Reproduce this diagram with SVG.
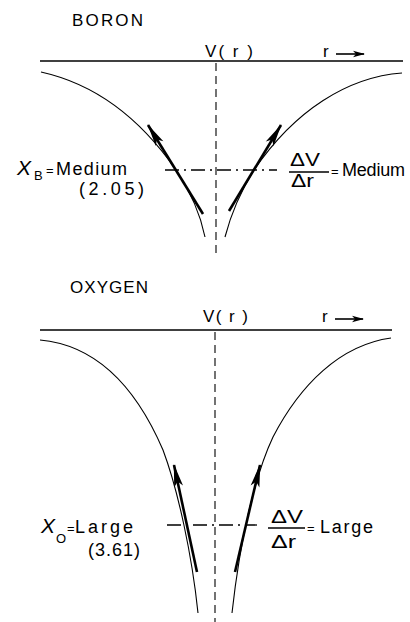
<svg xmlns="http://www.w3.org/2000/svg" width="410" height="622" viewBox="0 0 410 622">
<style>
text{font-family:"Liberation Sans",Arial,sans-serif;fill:#000;font-size:18px}
.hd{font-size:17px}
.x{font-style:italic;font-size:21px}
.sub{font-size:13px}
.eq{font-size:13px}
.axis{stroke:#000;stroke-width:1.5;fill:none}
.curve{stroke:#000;stroke-width:1.1;fill:none}
.vdash{stroke:#000;stroke-width:1.1;stroke-dasharray:8 5;fill:none}
.dd{stroke:#000;stroke-width:1.3;stroke-dasharray:14 5 2 5;fill:none}
.arr{stroke:#000;stroke-width:2.6;fill:none;marker-end:url(#big)}
.rarr{stroke:#000;stroke-width:1.6;fill:none;marker-end:url(#small)}
.bar{stroke:#000;stroke-width:1.4}
</style>
<defs>
<marker id="big" markerUnits="userSpaceOnUse" viewBox="-24 -6 26 12" refX="0" refY="0" markerWidth="26" markerHeight="12" orient="auto">
<path d="M1,0 L-22,-4.5 L-17,0 L-22,4.5 Z" fill="#000"/>
</marker>
<marker id="small" markerUnits="userSpaceOnUse" viewBox="-12 -4 13 8" refX="0" refY="0" markerWidth="13" markerHeight="8" orient="auto">
<path d="M1,0 L-11,-3.2 L-8,0 L-11,3.2 Z" fill="#000"/>
</marker>
</defs>

<g id="boron">
<text class="hd" x="72" y="26" textLength="71" lengthAdjust="spacing">BORON</text>
<text class="hd" x="205" y="57" textLength="48" lengthAdjust="spacing">V( r )</text>
<text class="hd" x="323" y="57">r</text>
<line class="rarr" x1="336" y1="54" x2="364" y2="54"/>
<line class="axis" x1="40" y1="61" x2="403" y2="61"/>
<line class="vdash" x1="216" y1="63" x2="216" y2="254"/>
<path class="curve" d="M41,72 C95,84 140,118 176,170 C188,188 200,212 205,237"/>
<path class="curve" d="M402,73 C348,77 295,110 254,170 C244,186 232,210 225,237"/>
<line class="arr" x1="203" y1="214" x2="148" y2="125"/>
<line class="arr" x1="229" y1="211" x2="281" y2="125"/>
<line class="dd" x1="165" y1="170" x2="277" y2="170"/>
</g>

<g id="boron-labels">
<text class="x" x="17" y="175">X</text>
<text class="sub" x="34" y="180">B</text>
<text class="eq" x="46" y="175">=</text>
<text x="56" y="175" textLength="71" lengthAdjust="spacing">Medium</text>
<text x="79" y="195" textLength="65" lengthAdjust="spacing">(2.05)</text>
<text x="290" y="166" textLength="30" lengthAdjust="spacingAndGlyphs">ΔV</text>
<line class="bar" x1="289" y1="172" x2="329" y2="172"/>
<text x="291" y="187" textLength="23" lengthAdjust="spacingAndGlyphs">Δr</text>
<text class="eq" x="331" y="176">=</text>
<text x="342" y="176" textLength="63" lengthAdjust="spacing">Medium</text>
</g>

<g id="oxygen">
<text class="hd" x="70" y="293" textLength="78" lengthAdjust="spacing">OXYGEN</text>
<text class="hd" x="203" y="322" textLength="45" lengthAdjust="spacing">V( r )</text>
<text class="hd" x="322" y="322">r</text>
<line class="rarr" x1="335" y1="319" x2="363" y2="319"/>
<line class="axis" x1="40" y1="330" x2="392" y2="330"/>
<line class="vdash" x1="215" y1="332" x2="215" y2="622"/>
<path class="curve" d="M40,340 C95,345 135,385 163,450 C178,490 192,555 198,613"/>
<path class="curve" d="M391,338 C340,345 300,385 273,437 C255,475 240,540 232,613"/>
<line class="arr" x1="197" y1="572" x2="174" y2="465"/>
<line class="arr" x1="235" y1="572" x2="260" y2="465"/>
<line class="dd" x1="167" y1="525" x2="257" y2="525"/>
</g>

<g id="oxygen-labels">
<text class="x" x="41" y="533">X</text>
<text class="sub" x="56" y="543">O</text>
<text class="eq" x="67" y="533">=</text>
<text x="75" y="533" textLength="58" lengthAdjust="spacing">Large</text>
<text x="88" y="556" textLength="52" lengthAdjust="spacing">(3.61)</text>
<text x="271" y="523" textLength="32" lengthAdjust="spacingAndGlyphs">ΔV</text>
<line class="bar" x1="268" y1="528" x2="305" y2="528"/>
<text x="271" y="548" textLength="25" lengthAdjust="spacingAndGlyphs">Δr</text>
<text class="eq" x="307" y="533">=</text>
<text x="320" y="533" textLength="53" lengthAdjust="spacing">Large</text>
</g>
</svg>
